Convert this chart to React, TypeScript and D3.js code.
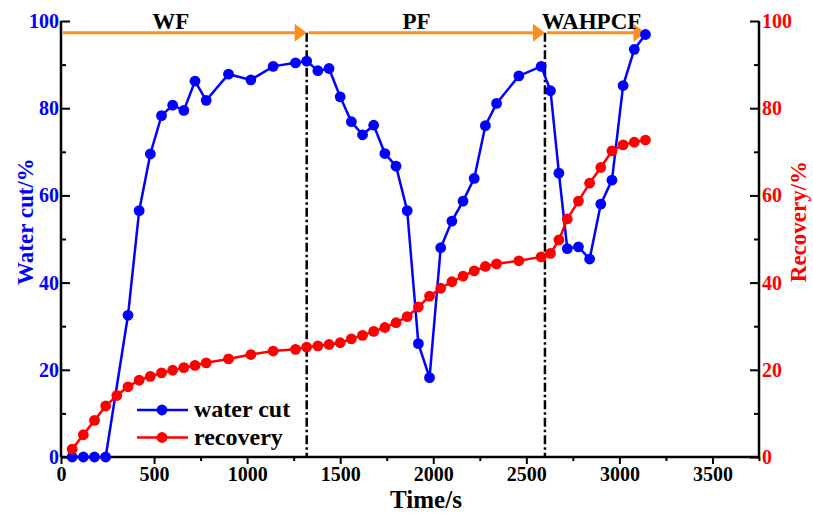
import { useRef, useEffect } from 'react';
import * as d3 from 'd3';

// water cut (blue)
const cutTime = [60, 120, 180, 240, 360, 420, 480, 540, 600, 660, 720, 780, 900, 1020, 1140, 1260,
  1320, 1380, 1440, 1500, 1560, 1620, 1680, 1740, 1800, 1860, 1920, 1980, 2040, 2100, 2160, 2220, 2280, 2340,
  2460, 2580, 2630, 2675, 2720, 2780, 2840, 2900, 2960, 3020, 3080, 3140];
const cutValue = [0, 0, 0, 0, 32.5, 56.5, 69.5, 78.3, 80.7, 79.5, 86.2, 81.8, 87.8, 86.5, 89.6, 90.4,
  90.8, 88.6, 89.1, 82.6, 76.9, 73.9, 76.1, 69.6, 66.7, 56.5, 26.0, 18.2, 48.0, 54.1, 58.7, 63.9, 76.0, 81.1,
  87.4, 89.6, 84.0, 65.1, 47.8, 48.2, 45.4, 58.0, 63.5, 85.2, 93.5, 96.9];

// recovery (red)
const recTime = [60, 120, 180, 240, 300, 360, 420, 480, 540, 600, 660, 720, 780, 900, 1020, 1140, 1260,
  1320, 1380, 1440, 1500, 1560, 1620, 1680, 1740, 1800, 1860, 1920, 1980, 2040, 2100, 2160, 2220, 2280, 2340,
  2460, 2580, 2630, 2675, 2720, 2780, 2840, 2900, 2960, 3020, 3080, 3140];
const recValue = [1.8, 5.1, 8.4, 11.7, 14.1, 16.1, 17.6, 18.5, 19.3, 19.9, 20.5, 21.0, 21.6, 22.5, 23.5, 24.3, 24.7,
  25.2, 25.5, 25.8, 26.2, 27.1, 27.9, 28.8, 29.7, 30.8, 32.2, 34.4, 36.9, 38.7, 40.2, 41.5, 42.7, 43.7, 44.3,
  45.0, 45.9, 46.7, 49.8, 54.6, 58.7, 62.8, 66.4, 70.2, 71.6, 72.2, 72.7];

// stages
const stageNames = ['WF', 'PF', 'WAHPCF'];
const stageStart = [0, 1320, 2600];
const stageEnd = [1320, 2600, 3140];
const stageLabelAt = [590, 1910, 2850];
const stageSwitch = [1320, 2600];
const arrowLevel = 97.3;

const xTicks = [0, 500, 1000, 1500, 2000, 2500, 3000, 3500];
const yTicks = [0, 20, 40, 60, 80, 100];

export default function App() {
  const svgRef = useRef(null);

  useEffect(() => {
    const width = 813, height = 518;
    const left = 61, right = 759, top = 21, bottom = 457;
    const font = "'Times New Roman', 'Liberation Serif', serif";
    const blue = '#0000ff', red = '#ff0000', orange = '#ff8c21';

    const svg = d3.select(svgRef.current).attr('width', width).attr('height', height);
    svg.selectAll('*').remove();

    const x = d3.scaleLinear().domain([0, 3750]).range([left, right]);
    const yL = d3.scaleLinear().domain([0, 100]).range([bottom, top]);
    const yR = d3.scaleLinear().domain([0, 100]).range([bottom, top]);

    // axes
    const xAxis = svg.append('g').attr('transform', `translate(0,${bottom})`)
      .call(d3.axisBottom(x).tickValues(d3.range(0, 3751, 250)).tickSize(7).tickFormat(d => xTicks.includes(d) ? d : ''));
    xAxis.selectAll('.tick line').attr('stroke-width', 2).attr('y2', d => d % 500 === 0 ? 7 : 4);
    xAxis.select('.domain').attr('stroke-width', 2.5).attr('d', `M${left},0H${right}`);
    xAxis.selectAll('text').attr('font-family', font).attr('font-weight', 'bold').attr('font-size', 20)
      .attr('fill', '#000').attr('y', 10);

    const yAxisL = svg.append('g').attr('transform', `translate(${left},0)`)
      .call(d3.axisLeft(yL).tickValues(d3.range(0, 101, 10)).tickSize(-9).tickPadding(2)
        .tickFormat(d => yTicks.includes(d) ? d : ''));
    yAxisL.selectAll('.tick line').attr('stroke-width', 2).attr('x2', d => d % 20 === 0 ? 9 : 5);
    yAxisL.select('.domain').attr('stroke-width', 2.5).attr('d', `M0,${top}V${bottom}`);
    yAxisL.selectAll('text').attr('font-family', font).attr('font-weight', 'bold').attr('font-size', 20)
      .attr('fill', blue).attr('x', -2);

    const yAxisR = svg.append('g').attr('transform', `translate(${right},0)`)
      .call(d3.axisRight(yR).tickValues(d3.range(0, 101, 10)).tickSize(-9).tickPadding(2)
        .tickFormat(d => yTicks.includes(d) ? d : ''));
    yAxisR.selectAll('.tick line').attr('stroke-width', 2).attr('x2', d => d % 20 === 0 ? -9 : -5);
    yAxisR.select('.domain').attr('stroke-width', 2.5).attr('d', `M0,${top}V${bottom}`);
    yAxisR.selectAll('text').attr('font-family', font).attr('font-weight', 'bold').attr('font-size', 20)
      .attr('fill', red).attr('x', 3);

    // axis titles
    svg.append('text').attr('x', 426).attr('y', 508)
      .attr('text-anchor', 'middle').attr('font-family', font).attr('font-weight', 'bold')
      .attr('font-size', 25).text('Time/s');
    svg.append('text').attr('transform', `translate(33,${yL(54)}) rotate(-90)`)
      .attr('text-anchor', 'middle').attr('font-family', font).attr('font-weight', 'bold')
      .attr('font-size', 23).attr('fill', blue).text('Water cut/%');
    svg.append('text').attr('transform', `translate(806,${yR(54)}) rotate(-90)`)
      .attr('text-anchor', 'middle').attr('font-family', font).attr('font-weight', 'bold')
      .attr('font-size', 23).attr('fill', red).text('Recovery/%');

    // stage switch lines
    stageSwitch.forEach(t => {
      svg.append('line').attr('x1', x(t)).attr('x2', x(t)).attr('y1', yL(arrowLevel)).attr('y2', bottom)
        .attr('stroke', '#000').attr('stroke-width', 2.5).attr('stroke-dasharray', '9,3,2.5,3');
    });

    // stage arrows
    stageNames.forEach((name, i) => {
      const x0 = x(stageStart[i]) + 2, x1 = x(stageEnd[i]);
      const yy = yL(arrowLevel);
      svg.append('line').attr('x1', x0).attr('x2', x1 - 10).attr('y1', yy).attr('y2', yy)
        .attr('stroke', orange).attr('stroke-width', 3);
      svg.append('path').attr('d', `M${x1},${yy}L${x1 - 12},${yy - 9}L${x1 - 12},${yy + 9}Z`).attr('fill', orange);
      svg.append('text').attr('x', x(stageLabelAt[i])).attr('y', 29).attr('text-anchor', 'middle')
        .attr('font-family', font).attr('font-weight', 'bold').attr('font-size', 23).attr('fill', '#000')
        .text(name);
    });

    const drawSeries = (times, values, y, color) => {
      const pts = times.map((t, i) => [t, values[i]]);
      const line = d3.line().x(d => x(d[0])).y(d => y(d[1]));
      svg.append('path').datum(pts).attr('d', line).attr('fill', 'none')
        .attr('stroke', color).attr('stroke-width', 2.5);
      svg.append('g').selectAll('circle').data(pts).enter().append('circle')
        .attr('cx', d => x(d[0])).attr('cy', d => y(d[1])).attr('r', 5.4).attr('fill', color);
    };
    drawSeries(cutTime, cutValue, yL, blue);
    drawSeries(recTime, recValue, yR, red);

    // legend
    const legend = [['water cut', blue], ['recovery', red]];
    legend.forEach(([label, color], i) => {
      const ly = 410 + i * 27.5;
      svg.append('line').attr('x1', 137).attr('x2', 188).attr('y1', ly).attr('y2', ly)
        .attr('stroke', color).attr('stroke-width', 2.5);
      svg.append('circle').attr('cx', 162).attr('cy', ly).attr('r', 5.4).attr('fill', color);
      svg.append('text').attr('x', 194).attr('y', ly + 7).attr('font-family', font)
        .attr('font-weight', 'bold').attr('font-size', 24).attr('fill', '#000').text(label);
    });
  }, []);

  return (
    <svg ref={svgRef} style={{ position: 'absolute', left: 0, top: 0, background: '#fff' }} />
  );
}
